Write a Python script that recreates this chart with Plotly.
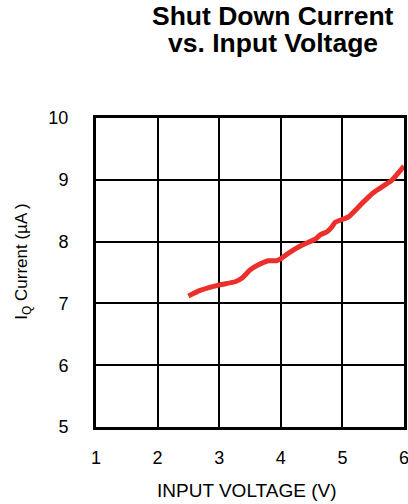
import plotly.graph_objects as go

# Shut down current vs input voltage
input_voltage = [2.50, 2.69, 3.01, 3.26, 3.37, 3.50, 3.63, 3.80, 3.93, 4.01,
                 4.12, 4.34, 4.56, 4.64, 4.75, 4.83, 4.88, 5.10, 5.29, 5.50,
                 5.80, 6.00]
iq_current = [7.12, 7.21, 7.30, 7.35, 7.41, 7.54, 7.62, 7.69, 7.69, 7.73,
              7.81, 7.94, 8.04, 8.11, 8.16, 8.24, 8.31, 8.40, 8.59, 8.79,
              8.99, 9.22]

x_ticks = [1, 2, 3, 4, 5, 6]
y_ticks = [5, 6, 7, 8, 9, 10]

FONT = 'Liberation Sans, Arial, sans-serif'

fig = go.Figure()

fig.add_trace(go.Scatter(
    x=input_voltage, y=iq_current, mode='lines',
    line=dict(color='#ec2f2a', width=5, shape='spline', smoothing=0.4),
    showlegend=False
))

fig.update_layout(
    width=408,
    height=504,
    margin=dict(l=96, r=4, t=118, b=77),
    paper_bgcolor='white',
    plot_bgcolor='white',
    font=dict(family=FONT, color='black'),
    annotations=[
        # two-line title, placed line by line to keep the tight leading
        dict(text='<b>Shut Down Current</b>', xref='paper', yref='paper',
             x=0.576, y=1.0, yshift=102, xanchor='center', yanchor='middle',
             showarrow=False, font=dict(size=26.5)),
        dict(text='<b>vs. Input Voltage</b>', xref='paper', yref='paper',
             x=0.576, y=1.0, yshift=75, xanchor='center', yanchor='middle',
             showarrow=False, font=dict(size=26.5)),
        # axis titles
        dict(text='INPUT VOLTAGE (V)', xref='paper', yref='paper',
             x=0.49, y=0.0, yshift=-63, xanchor='center', yanchor='middle',
             showarrow=False, font=dict(size=19)),
        dict(text='I<sub>Q</sub> Current (µA )', xref='paper', yref='paper',
             x=-0.237, y=0.535, xanchor='center', yanchor='middle',
             textangle=-90, showarrow=False, font=dict(size=17)),
    ]
)

fig.update_xaxes(
    range=[1, 6],
    tickvals=x_ticks,
    tickfont=dict(size=18),
    ticks='',
    ticklabelstandoff=12,
    ticklabeloverflow='allow',
    showgrid=True, gridcolor='black', gridwidth=2,
    showline=True, linecolor='black', linewidth=3, mirror=True,
    zeroline=False,
    automargin=False
)
fig.update_yaxes(
    range=[5, 10],
    tickvals=y_ticks,
    tickfont=dict(size=18),
    ticks='',
    ticklabelstandoff=21,
    showgrid=True, gridcolor='black', gridwidth=2,
    showline=True, linecolor='black', linewidth=3, mirror=True,
    zeroline=False,
    automargin=False
)

# drop the browser's default body margin so the figure sits at the page corner
fig.write_html("out.html",
               config={'displayModeBar': False},
               post_script="document.body.style.margin='0';"
                           "document.body.style.overflow='hidden';")
